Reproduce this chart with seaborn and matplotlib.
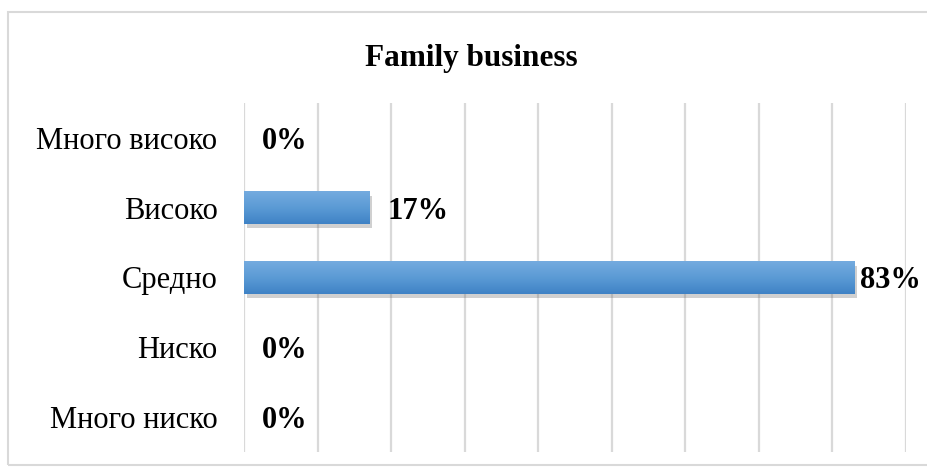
import matplotlib
matplotlib.use("Agg")
import matplotlib.pyplot as plt
import matplotlib.patheffects as pe
import numpy as np
import pandas as pd
import seaborn as sns
from matplotlib.colors import LinearSegmentedColormap
from matplotlib.patches import Rectangle

# дані з графіка
categories = ['Много високо', 'Високо', 'Средно', 'Ниско', 'Много ниско']
values = [0.0, 0.17, 0.83, 0.0, 0.0]
labels = ['0%', '17%', '83%', '0%', '0%']
title = 'Family business'

df = pd.DataFrame({'category': categories, 'value': values})

sns.set_style('white')
plt.rcParams['font.family'] = ['Liberation Serif', 'DejaVu Serif']
plt.rcParams['text.color'] = 'black'
plt.rcParams['ytick.color'] = 'black'

fig = plt.figure(figsize=(9.27, 4.72), dpi=100)
ax = fig.add_axes([0.2632, 0.0424, 0.7141, 0.7394])

sns.barplot(data=df, x='value', y='category', orient='h', width=0.46,
            color='#5b9bd5', linewidth=0, ax=ax)

ax.set_xlim(0, 0.9)
ax.set_xticks(np.arange(0, 0.91, 0.1))
ax.grid(axis='x', color='#d9d9d9', lw=1.6)
ax.set_axisbelow(True)
for s in ax.spines.values():
    s.set_visible(False)
ax.tick_params(axis='x', labelbottom=False, length=0)
ax.tick_params(axis='y', length=0, pad=19, labelsize=22, labelcolor='black')
ax.set_xlabel('')
ax.set_ylabel('')

# градієнт і тінь на стовпчиках
cmap = LinearSegmentedColormap.from_list('bar', ['#74abdf', '#5b9bd5', '#3f82c5'])
grad = np.linspace(0, 1, 100).reshape(-1, 1)
ylim = ax.get_ylim()
for p in ax.patches:
    w = p.get_width()
    if w <= 0:
        p.set_visible(False)
        continue
    x0, y0, h = p.get_x(), p.get_y(), p.get_height()
    p.set_path_effects([pe.SimplePatchShadow(offset=(2, -3), shadow_rgbFace='#666666', alpha=0.3),
                        pe.Normal()])
    ax.imshow(grad, cmap=cmap, aspect='auto', extent=[x0, x0 + w, y0 + h, y0],
              zorder=p.get_zorder() + 0.1)
ax.set_xlim(0, 0.9)
ax.set_ylim(ylim)

# підписи значень
for i, (v, lab) in enumerate(zip(values, labels)):
    off = 4 if v == max(values) else 13
    ax.annotate(lab, (v, i), xytext=(off, -2.5), textcoords='offset points',
                ha='left', va='center', fontsize=22, fontweight='bold', color='black')

fig.text(0.508, 0.877, title, ha='center', va='center', fontsize=22.5,
         fontweight='bold', color='black')

# рамка діаграми
fig.patches.append(Rectangle((0.009, 0.015), 1.2, 0.96, transform=fig.transFigure,
                             fill=False, edgecolor='#d9d9d9', lw=1.5))

fig.savefig('out.png', dpi=100)
